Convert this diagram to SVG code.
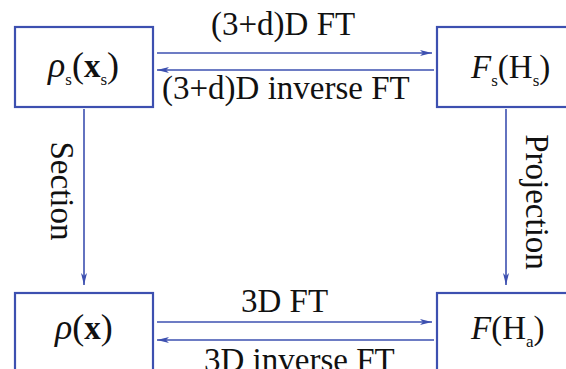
<svg xmlns="http://www.w3.org/2000/svg" width="566" height="369" viewBox="0 0 566 369">
<style>
.box{fill:#fff;stroke:#3d50b0;stroke-width:2.2}
.ln{stroke:#3d50b0;stroke-width:1.6;fill:none}
text{font-family:"Liberation Serif","Times New Roman",serif;fill:#111;font-size:33px}
.nt{font-size:33px}
.sub{font-size:17px}
</style>
<defs>
<marker id="ah" viewBox="0 0 12 6" refX="12" refY="3" markerWidth="12" markerHeight="6" markerUnits="userSpaceOnUse" orient="auto">
<path d="M0,0 L12,3 L0,6 L3,3 Z" fill="#3d50b0"/>
</marker>
</defs>
<rect width="566" height="369" fill="#fff"/>
<g id="connectors">
<line class="ln" x1="157" y1="53" x2="432" y2="53" marker-end="url(#ah)"/>
<line class="ln" x1="434" y1="70" x2="157" y2="70" marker-end="url(#ah)"/>
<line class="ln" x1="157" y1="322" x2="432" y2="322" marker-end="url(#ah)"/>
<line class="ln" x1="434" y1="340" x2="157" y2="340" marker-end="url(#ah)"/>
<line class="ln" x1="84" y1="109" x2="84" y2="285" marker-end="url(#ah)"/>
<line class="ln" x1="506" y1="109" x2="506" y2="285" marker-end="url(#ah)"/>
<text x="211" y="35">(3+d)D FT</text>
<text x="162" y="99">(3+d)D inverse FT</text>
<text x="241" y="312">3D FT</text>
<text x="204" y="371">3D inverse FT</text>
<text transform="translate(51,191) rotate(90)" text-anchor="middle">Section</text>
<text transform="translate(526,202) rotate(90)" text-anchor="middle">Projection</text>
</g>
<g id="node-rho-s">
<rect class="box" x="15" y="27" width="138" height="80"/>
<text class="nt" x="48" y="77"><tspan font-style="italic" font-size="36">ρ</tspan><tspan class="sub" dy="8">s</tspan><tspan dy="-8" font-size="36">(</tspan><tspan font-weight="bold">x</tspan><tspan class="sub" dy="8">s</tspan><tspan dy="-8" font-size="36">)</tspan></text>
</g>
<g id="node-F-s">
<rect class="box" x="437" y="27" width="142" height="80"/>
<text class="nt" x="471" y="78"><tspan font-style="italic">F</tspan><tspan class="sub" dy="8">s</tspan><tspan dy="-8">(H</tspan><tspan class="sub" dy="8">s</tspan><tspan dy="-8">)</tspan></text>
</g>
<g id="node-rho">
<rect class="box" x="15" y="293" width="138" height="90"/>
<text class="nt" x="55" y="339"><tspan font-style="italic" font-size="36">ρ</tspan><tspan font-size="36">(</tspan><tspan font-weight="bold">x</tspan><tspan font-size="36">)</tspan></text>
</g>
<g id="node-F">
<rect class="box" x="437" y="293" width="142" height="90"/>
<text class="nt" x="471" y="339"><tspan font-style="italic">F</tspan>(H<tspan class="sub" dy="8">a</tspan><tspan dy="-8">)</tspan></text>
</g>
</svg>
